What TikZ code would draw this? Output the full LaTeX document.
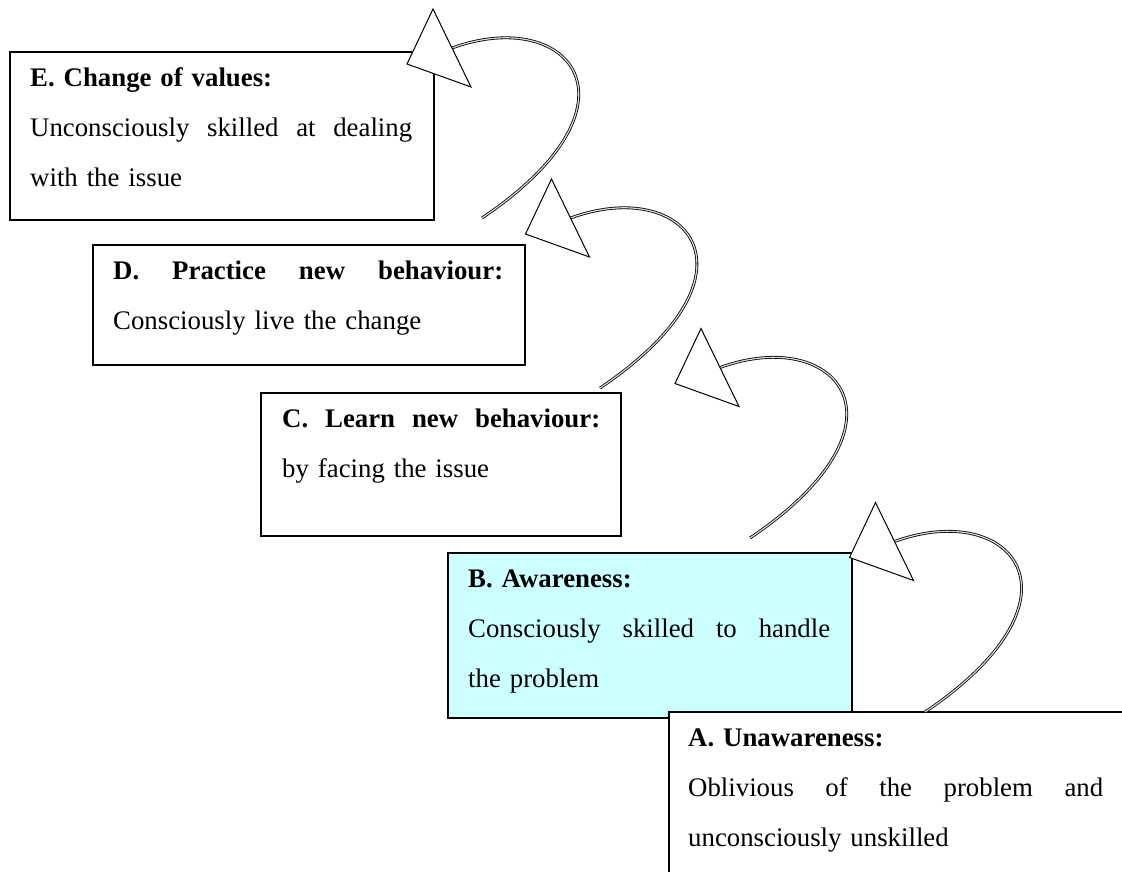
\documentclass[tikz,border=0pt]{standalone}
\usepackage{fontspec}
\setmainfont{Liberation Serif}
\definecolor{awarecyan}{RGB}{204,255,255}
% a line spread to a given width; words are separated by \hfill
\newcommand{\fullline}[2]{\leavevmode\hbox to #1{#2}}
\begin{document}
\begin{tikzpicture}[x=1pt,y=-1pt,
  stagebox/.style={draw=black, line width=1.5pt, fill=white, rectangle, inner sep=0pt, anchor=north west},
  stagetext/.style={anchor=north west, inner sep=0pt, align=left, font=\fontsize{26.8pt}{50pt}\selectfont},
  loopline/.style={draw=black, line width=0.8pt, double=black!15, double distance=1.2pt},
  headtri/.style={draw=black, line width=1pt, fill=white, line join=miter}]

\useasboundingbox (0,0) rectangle (1122,871);
\clip (0,0) rectangle (1122,871);

% stage boxes, from the top step down to the bottom step
\node[stagebox, minimum width=424pt, minimum height=168pt] (E) at (9,51) {};
\node[stagebox, minimum width=432pt, minimum height=120pt] (D) at (92,244) {};
\node[stagebox, minimum width=360pt, minimum height=143pt] (C) at (260,392) {};
\node[stagebox, fill=awarecyan, minimum width=404pt, minimum height=165pt] (B) at (447,552) {};
\node[stagebox, minimum width=520pt, minimum height=220pt] (A) at (668,711) {};

% stage texts
\node[stagetext, text width=382pt] (Etext) at ([shift={(21pt,-15pt)}]E.north west)
  {\rule{0pt}{20pt}\textbf{E. Change of values:}\\
   \fullline{382pt}{Unconsciously\hfill skilled\hfill at\hfill dealing}\\
   with the issue};
\node[stagetext, text width=390pt] (Dtext) at ([shift={(21pt,-15pt)}]D.north west)
  {\rule{0pt}{20pt}\fullline{390pt}{\bfseries D.\hfill Practice\hfill new\hfill behaviour:}\\
   Consciously live the change};
\node[stagetext, text width=318pt] (Ctext) at ([shift={(22pt,-15pt)}]C.north west)
  {\rule{0pt}{20pt}\fullline{318pt}{\bfseries C.\hfill Learn\hfill new\hfill behaviour:}\\
   by facing the issue};
\node[stagetext, text width=362pt] (Btext) at ([shift={(21pt,-15pt)}]B.north west)
  {\rule{0pt}{20pt}\textbf{B. Awareness:}\\
   \fullline{362pt}{Consciously\hfill skilled\hfill to\hfill handle}\\
   the problem};
\node[stagetext, text width=415pt] (Atext) at ([shift={(20pt,-15pt)}]A.north west)
  {\rule{0pt}{20pt}\textbf{A. Unawareness:}\\
   \fullline{415pt}{Oblivious\hfill of\hfill the\hfill problem\hfill and}\\
   unconsciously unskilled};

% loop connectors: free start above each lower step, head at the next step
\coordinate (AtoB-start) at (925,712);   \coordinate (AtoB-base) at (894.5,541.5);
\coordinate (BtoC-start) at (750,538);   \coordinate (BtoC-base) at (720,367.5);
\coordinate (CtoD-start) at (600,388);   \coordinate (CtoD-base) at (570.5,218);
\coordinate (DtoE-start) at (482,218);   \coordinate (DtoE-base) at (452,48);

\foreach \lp in {AtoB,BtoC,CtoD,DtoE}{
  \draw[loopline] (\lp-start) .. controls +(34:205pt) and +(20:125pt) .. (\lp-base);
  \draw[headtri] ([shift={(-19,-39)}]\lp-base) -- ([shift={(19,39)}]\lp-base)
     -- ([shift={(-45,16)}]\lp-base) -- cycle;
}
\end{tikzpicture}
\end{document}
